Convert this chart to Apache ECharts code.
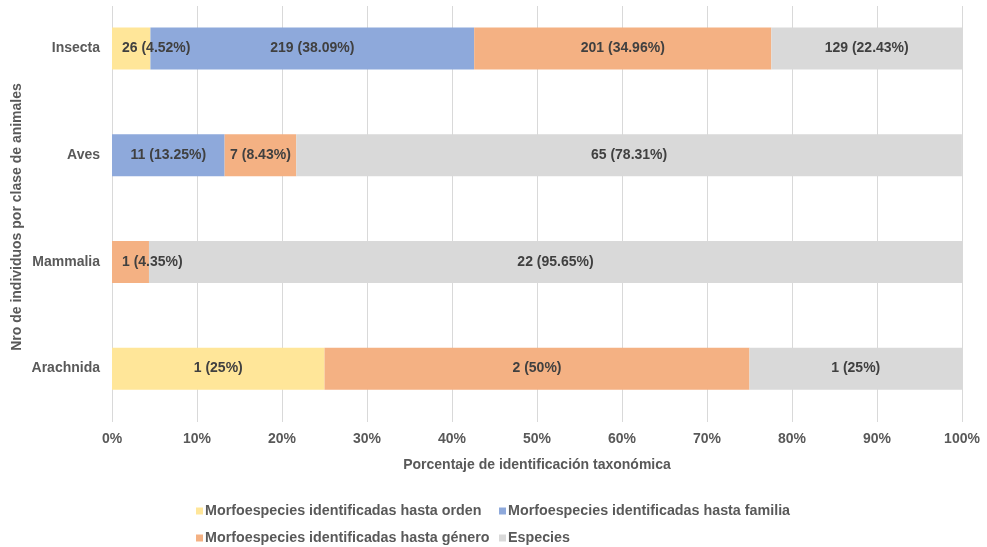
<!DOCTYPE html>
<html>
<head>
<meta charset="utf-8">
<script src="https://cdn.jsdelivr.net/npm/echarts@6/dist/echarts.min.js"></script>
<style>
  html, body { margin: 0; padding: 0; background: #fff; }
  #chart { width: 987px; height: 547px; }
</style>
</head>
<body>
<div id="chart"></div>
<script>
// Classes of animals (top to bottom)
const categories = ['Insecta', 'Aves', 'Mammalia', 'Arachnida'];

// Number of individuals per identification level
const seriesNames = [
  'Morfoespecies identificadas hasta orden',
  'Morfoespecies identificadas hasta familia',
  'Morfoespecies identificadas hasta género',
  'Especies'
];
const orden   = [26, 0, 0, 1];
const familia = [219, 11, 0, 0];
const genero  = [201, 7, 1, 2];
const especies = [129, 65, 22, 1];

const xTicks = [0, 10, 20, 30, 40, 50, 60, 70, 80, 90, 100];

const yTitle = 'Nro de individuos por clase de animales';
const xTitle = 'Porcentaje de identificación taxonómica';

const colors = ['#FFE699', '#8EA9DB', '#F4B183', '#D9D9D9'];
const FONT = '"Liberation Sans", Arial, sans-serif';
const AXIS_TXT = '#595959';
const LABEL_TXT = '#404040';

const counts = [orden, familia, genero, especies];
const totals = categories.map((_, i) => counts.reduce((s, arr) => s + arr[i], 0));

function pct(v, i) {
  return parseFloat((v / totals[i] * 100).toFixed(2));
}

const series = counts.map((arr, si) => ({
  name: seriesNames[si],
  type: 'bar',
  stack: 'total',
  barWidth: 42,
  itemStyle: { color: colors[si] },
  emphasis: { disabled: true },
  data: arr.map((v, i) => {
    const p = pct(v, i);
    const narrow = p > 0 && p < 6;
    return {
      value: p,
      count: v,
      label: {
        show: v > 0,
        position: narrow ? 'insideLeft' : 'inside',
        distance: 10
      }
    };
  }),
  label: {
    color: LABEL_TXT,
    fontFamily: FONT,
    fontWeight: 'bold',
    fontSize: 14,
    formatter: (p) => p.data.count + ' (' + p.data.value + '%)'
  }
}));

// One legend per entry, laid out in two columns
const legendPos = [
  { left: 196, top: 504 },
  { left: 499, top: 504 },
  { left: 196, top: 531 },
  { left: 499, top: 531 }
];
const legends = seriesNames.map((n, i) => ({
  data: [n],
  left: legendPos[i].left,
  top: legendPos[i].top,
  icon: 'rect',
  itemWidth: 7,
  itemHeight: 7,
  padding: 0,
  textStyle: {
    color: AXIS_TXT,
    fontFamily: FONT,
    fontWeight: 'bold',
    fontSize: 14.3,
    padding: [0, 0, 0, -3]
  }
}));

const chart = echarts.init(document.getElementById('chart'));
chart.setOption({
  animation: false,
  backgroundColor: '#fff',
  grid: {
    left: 112, right: 25, top: -5, bottom: 125,
    containLabel: false,
    outerBoundsMode: 'none'
  },
  legend: legends,
  xAxis: {
    type: 'value',
    min: xTicks[0],
    max: xTicks[xTicks.length - 1],
    interval: 10,
    axisLine: { show: false },
    axisTick: { show: false },
    splitLine: { show: true, lineStyle: { color: '#D9D9D9', width: 1 } },
    axisLabel: {
      color: AXIS_TXT,
      fontFamily: FONT,
      fontWeight: 'bold',
      fontSize: 14,
      margin: 10,
      formatter: (v) => v + '%'
    },
    name: xTitle,
    nameLocation: 'middle',
    nameGap: 36,
    nameTextStyle: {
      color: AXIS_TXT,
      fontFamily: FONT,
      fontWeight: 'bold',
      fontSize: 14
    }
  },
  yAxis: {
    type: 'category',
    inverse: true,
    data: categories,
    axisLine: { show: false },
    axisTick: { show: false },
    axisLabel: {
      color: AXIS_TXT,
      fontFamily: FONT,
      fontWeight: 'bold',
      fontSize: 14,
      margin: 12
    }
  },
  graphic: [
    {
      type: 'rect',
      left: 0,
      top: 0,
      shape: { width: 987, height: 6 },
      style: { fill: '#fff' },
      z: 100,
      silent: true
    },
    {
      // vertical axis title
      type: 'text',
      x: 17,
      y: 217,
      rotation: Math.PI / 2,
      silent: true,
      style: {
        text: yTitle,
        fill: AXIS_TXT,
        font: 'bold 14px ' + FONT,
        align: 'center',
        verticalAlign: 'middle'
      }
    }
  ],
  series: series
});
</script>
</body>
</html>
